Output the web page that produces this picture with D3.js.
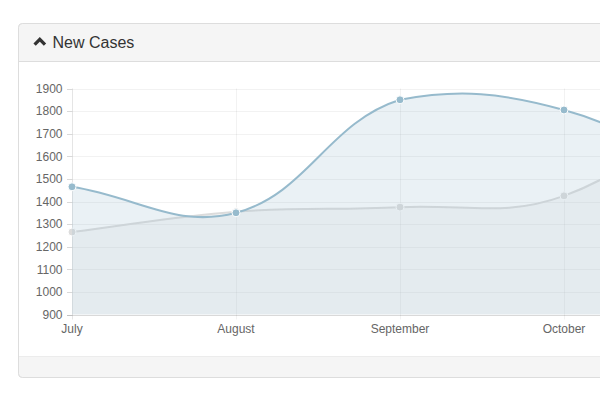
<!DOCTYPE html>
<html>
<head>
<meta charset="utf-8">
<script src="https://cdn.jsdelivr.net/npm/d3@7"></script>
<style>
  html, body { margin: 0; padding: 0; background: #fff; overflow: hidden; width: 600px; height: 400px; }
  svg { display: block; overflow: hidden; }
</style>
</head>
<body>
<div id="chart"></div>
<script>
// ---- data ----
const months = ["July", "August", "September", "October", "November"];
const newCases = [1465, 1350, 1850, 1805, 1450];
const prevCases = [1265, 1355, 1375, 1425, 1900];
const yTicks = [900, 1000, 1100, 1200, 1300, 1400, 1500, 1600, 1700, 1800, 1900];
const title = "New Cases";

const W = 600, H = 400;
const svg = d3.select("#chart").append("svg").attr("width", W).attr("height", H);
const font = "'Liberation Sans', Arial, Helvetica, sans-serif";

// ---- panel (continues past the right edge of the window) ----
const px = 18.5, py = 23.5, pw = 1000, pBottom = 377.5, r = 4;
svg.append("rect").attr("x", px).attr("y", py).attr("width", pw).attr("height", pBottom - py)
  .attr("rx", r).attr("fill", "#fff").attr("stroke", "#ddd");
svg.append("path")
  .attr("d", `M${px},61 L${px},${py + r} Q${px},${py} ${px + r},${py} L${px + pw},${py} L${px + pw},61 Z`)
  .attr("fill", "#f5f5f5");
svg.append("line").attr("x1", px).attr("x2", px + pw).attr("y1", 61.5).attr("y2", 61.5).attr("stroke", "#ddd");
svg.append("path")
  .attr("d", `M${px},357 L${px + pw},357 L${px + pw},${pBottom} L${px + r},${pBottom} Q${px},${pBottom} ${px},${pBottom - r} Z`)
  .attr("fill", "#f5f5f5");
svg.append("line").attr("x1", px).attr("x2", px + pw).attr("y1", 356.5).attr("y2", 356.5).attr("stroke", "#ececec");
svg.append("rect").attr("x", px).attr("y", py).attr("width", pw).attr("height", pBottom - py)
  .attr("rx", r).attr("fill", "none").attr("stroke", "#ddd");

// title with chevron
svg.append("path").attr("d", "M34.6,44.6 L39.8,39.4 L45,44.6")
  .attr("fill", "none").attr("stroke", "#333").attr("stroke-width", 3.3)
  .attr("stroke-linejoin", "miter").attr("stroke-linecap", "butt");
svg.append("text").attr("x", 52.5).attr("y", 48.3).attr("font-family", font)
  .attr("font-size", 16).attr("fill", "#333").text(title);

// ---- scales ----
const x = d3.scalePoint().domain(months).range([72, 728]);
const y = d3.scaleLinear().domain([900, 1900]).range([314.5, 88.5]);
const yTop = y(1900), yBottom = y(900);

// grid
const g = svg.append("g");
g.selectAll(".hgrid").data(yTicks).join("line")
  .attr("x1", 67).attr("x2", 1000).attr("y1", d => Math.round(y(d)) + 0.5).attr("y2", d => Math.round(y(d)) + 0.5)
  .attr("stroke", "rgba(0,0,0,0.05)");
g.selectAll(".vgrid").data(months).join("line")
  .attr("x1", d => Math.round(x(d)) + 0.5).attr("x2", d => Math.round(x(d)) + 0.5)
  .attr("y1", yTop).attr("y2", yBottom + 5)
  .attr("stroke", (d, i) => i === 0 ? "rgba(0,0,0,0.1)" : "rgba(0,0,0,0.05)");
g.append("line").attr("x1", 67).attr("x2", 1000).attr("y1", Math.round(yBottom) + 0.5).attr("y2", Math.round(yBottom) + 0.5)
  .attr("stroke", "rgba(0,0,0,0.1)");
g.selectAll(".ytick").data(yTicks).join("line")
  .attr("x1", 67).attr("x2", 72).attr("y1", d => Math.round(y(d)) + 0.5).attr("y2", d => Math.round(y(d)) + 0.5)
  .attr("stroke", "rgba(0,0,0,0.1)");

// labels (only those that fall inside the visible window, as in the reference)
g.selectAll(".ylab").data(yTicks).join("text")
  .attr("x", 62.5).attr("y", d => y(d)).attr("dy", "0.36em")
  .attr("text-anchor", "end").attr("font-family", font).attr("font-size", 12).attr("fill", "#666")
  .text(d => d);
g.selectAll(".xlab").data(months.filter(m => x(m) < W)).join("text")
  .attr("x", d => x(d)).attr("y", 332.5)
  .attr("text-anchor", "middle").attr("font-family", font).attr("font-size", 12).attr("fill", "#666")
  .text(d => d);

// ---- Chart.js v1 style bezier curve as a d3 curve ----
function makeCurve(tension, minY, maxY) {
  function Curve(ctx) { this._context = ctx; }
  Curve.prototype = {
    areaStart() { this._line = 0; },
    areaEnd() { this._line = NaN; },
    lineStart() { this._pts = []; },
    point(px, py) { this._pts.push([+px, +py]); },
    lineEnd() {
      const p = this._pts, c = this._context, n = p.length;
      if (n) {
        if (this._line) c.lineTo(p[0][0], p[0][1]); else c.moveTo(p[0][0], p[0][1]);
        const clamp = v => Math.max(minY, Math.min(maxY, v));
        const cps = p.map((pt, i) => {
          const p0 = i > 0 ? p[i - 1] : pt, p2 = i < n - 1 ? p[i + 1] : pt;
          const d01 = Math.hypot(pt[0] - p0[0], pt[1] - p0[1]);
          const d12 = Math.hypot(p2[0] - pt[0], p2[1] - pt[1]);
          const s = d01 + d12 || 1;
          const fa = tension * d01 / s, fb = tension * d12 / s;
          return {
            inner: [pt[0] - fa * (p2[0] - p0[0]), clamp(pt[1] - fa * (p2[1] - p0[1]))],
            outer: [pt[0] + fb * (p2[0] - p0[0]), clamp(pt[1] + fb * (p2[1] - p0[1]))]
          };
        });
        for (let i = 1; i < n; i++) {
          const a = cps[i - 1].outer, b = cps[i].inner;
          c.bezierCurveTo(a[0], a[1], b[0], b[1], p[i][0], p[i][1]);
        }
      }
      if (this._line || (this._line !== 0 && n === 1)) c.closePath();
      this._line = 1 - this._line;
    }
  };
  return ctx => new Curve(ctx);
}
const curve = makeCurve(0.4, yTop, yBottom);

const series = [
  { values: prevCases, stroke: "rgba(220,220,220,1)", fill: "rgba(220,220,220,0.2)", point: "rgba(220,220,220,1)" },
  { values: newCases, stroke: "rgba(151,187,205,1)", fill: "rgba(151,187,205,0.2)", point: "rgba(151,187,205,1)" }
];

const line = d3.line().x(d => x(d.m)).y(d => y(d.v)).curve(curve);
const area = d3.area().x(d => x(d.m)).y0(yBottom).y1(d => y(d.v)).curve(curve);

series.forEach(s => {
  const pts = months.map((m, i) => ({ m, v: s.values[i] }));
  const sg = svg.append("g");
  sg.append("path").attr("d", line(pts)).attr("fill", "none").attr("stroke", s.stroke).attr("stroke-width", 2);
  sg.append("path").attr("d", area(pts)).attr("fill", s.fill);
  sg.selectAll("circle").data(pts).join("circle")
    .attr("cx", d => x(d.m)).attr("cy", d => y(d.v)).attr("r", 4)
    .attr("fill", s.point).attr("stroke", "#fff").attr("stroke-width", 1);
});
</script>
</body>
</html>
